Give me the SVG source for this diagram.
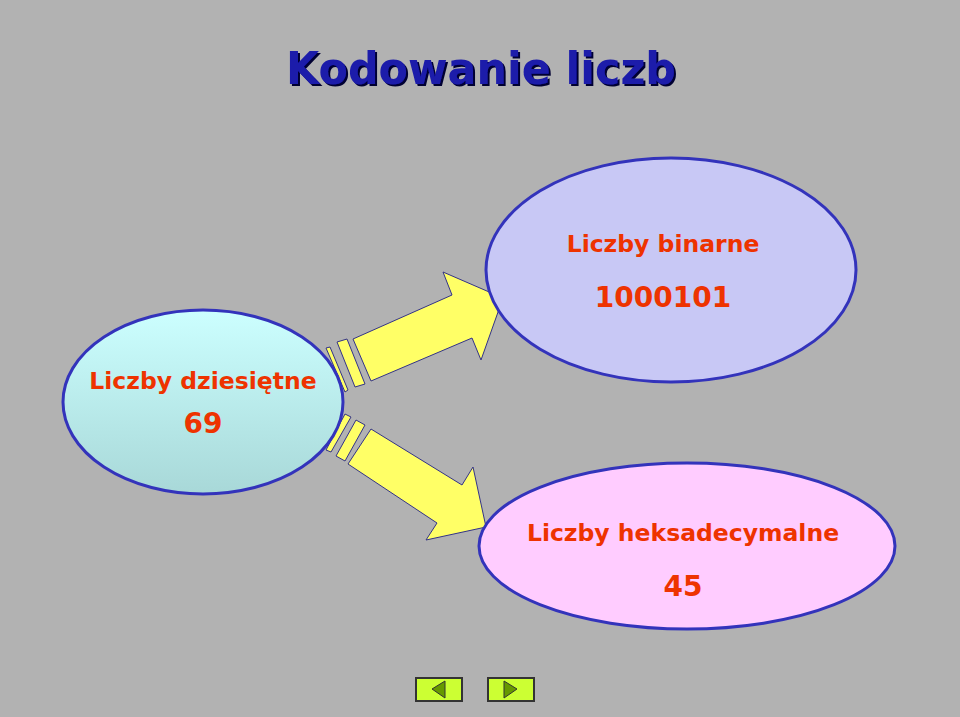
<svg xmlns="http://www.w3.org/2000/svg" width="960" height="717" viewBox="0 0 960 717">
<defs>
<linearGradient id="gl" x1="0" y1="0" x2="0" y2="1"><stop offset="0" stop-color="#ccffff"/><stop offset="1" stop-color="#a8d8d8"/></linearGradient>
<filter id="sh" x="-5%" y="-20%" width="110%" height="140%"><feDropShadow dx="2" dy="2" stdDeviation="0" flood-color="#000033"/></filter>
<style>
.e{stroke:#3333bb;stroke-width:3}
.a{fill:#ffff66;stroke:#333388;stroke-width:1}
.t{font-family:Verdana,"DejaVu Sans",sans-serif;fill:#ee3300;text-anchor:middle;font-weight:bold}
.b{fill:#ccff33;stroke:#333333;stroke-width:2}
.g{fill:#669900;stroke:#333333;stroke-width:1}
</style>
</defs>
<rect width="960" height="717" fill="#b2b2b2"/>
<text x="481" y="84" font-family="Verdana,'DejaVu Sans',sans-serif" font-size="44" font-weight="bold" fill="#1a1aaa" text-anchor="middle" filter="url(#sh)" textLength="390" lengthAdjust="spacingAndGlyphs">Kodowanie liczb</text>
<g id="connectors">
<g id="arrow-up">
<polygon class="a" points="353,339 452,295 443,272 503,298 481,360 472,338 371,381"/>
<polygon class="a" points="337,342 347,339 365,384 355,387"/>
<polygon class="a" points="326,348 330,347 348,390 345,392"/>
</g>
<g id="arrow-down">
<polygon class="a" points="371,429 462,485 473,467 486,527 426,540 437,523 348,464"/>
<polygon class="a" points="356,420 365,425 345,461 336,456"/>
<polygon class="a" points="345,414 351,417 331,452 326,450"/>
</g>
</g>
<g id="node-dec">
<ellipse class="e" cx="203" cy="402" rx="140" ry="92" fill="url(#gl)"/>
<text class="t" x="203" y="389" font-size="23.5">Liczby dziesiętne</text>
<text class="t" x="203" y="433" font-size="28">69</text>
</g>
<g id="node-bin">
<ellipse class="e" cx="671" cy="270" rx="185" ry="112" fill="#c8c8f5"/>
<text class="t" x="663" y="252" font-size="23.5">Liczby binarne</text>
<text class="t" x="663" y="307" font-size="28">1000101</text>
</g>
<g id="node-hex">
<ellipse class="e" cx="687" cy="546" rx="208" ry="83" fill="#ffccff"/>
<text class="t" x="683" y="541" font-size="23.5">Liczby heksadecymalne</text>
<text class="t" x="683" y="596" font-size="28">45</text>
</g>
<g id="nav">
<rect class="b" x="416" y="678" width="46" height="23"/>
<polygon class="g" points="432,689 445,681 445,698"/>
<rect class="b" x="488" y="678" width="46" height="23"/>
<polygon class="g" points="517,689 504,681 504,698"/>
</g>
</svg>
